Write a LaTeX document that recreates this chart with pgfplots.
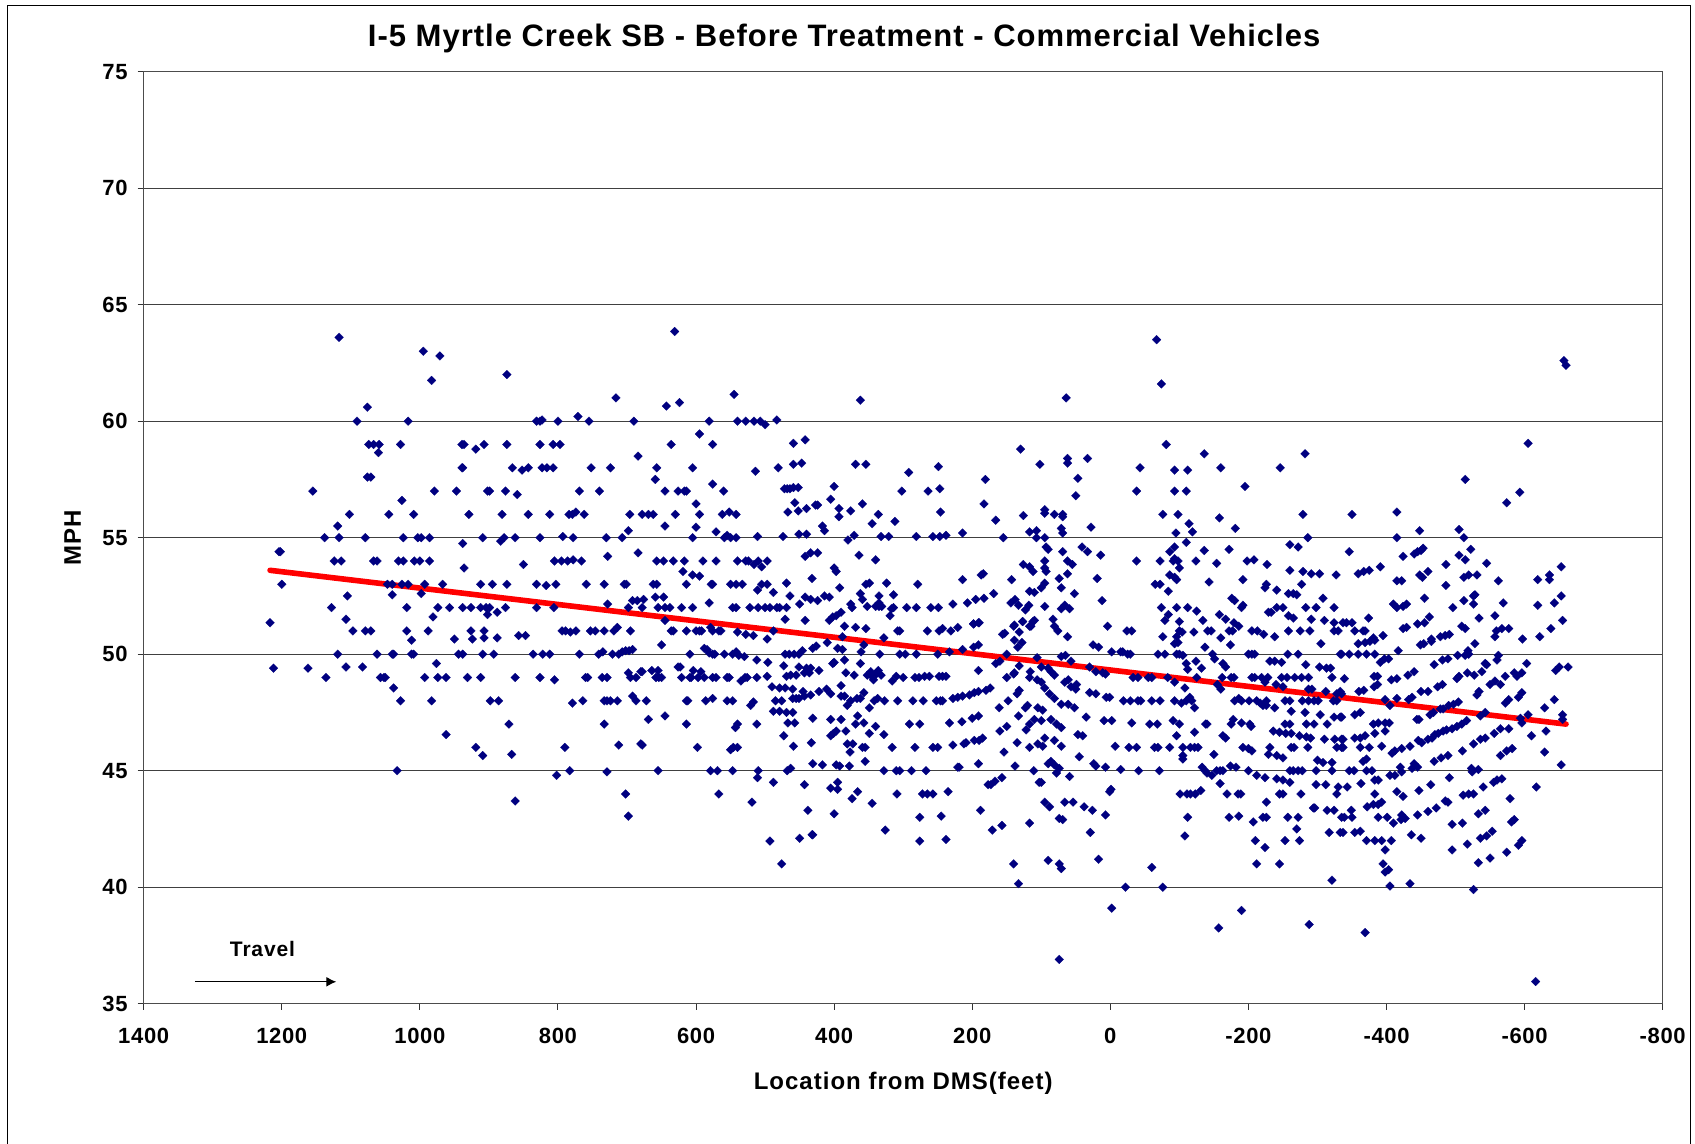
\documentclass[border=0pt]{standalone}
\usepackage{pgfplots}
\pgfplotsset{compat=1.18}
\usepackage{fontspec}
\setmainfont{Liberation Sans}
\usetikzlibrary{arrows.meta}
\definecolor{navypt}{RGB}{0,0,128}
\begin{document}
\begin{tikzpicture}[x=1pt,y=1pt]
\path[use as bounding box] (0,0) rectangle (847.5,572);
\draw[black,line width=0.7pt] (3.85,0) -- (3.85,569.15) -- (845.35,569.15) -- (845.35,0);
\begin{axis}[
  at={(71.85pt,70.15pt)},anchor=south west,
  scale only axis,width=759.5pt,height=466pt,
  x dir=reverse,xmin=-800,xmax=1400,ymin=35,ymax=75,
  xtick={-800,-600,-400,-200,0,200,400,600,800,1000,1200,1400},
  xticklabels={-800,-600,-400,-200,0,200,400,600,800,1000,1200,1400},
  ytick={35,40,45,50,55,60,65,70,75},
  yticklabels={35,40,45,50,55,60,65,70,75},
  ymajorgrids,
  grid style={black!75,line width=0.55pt},
  axis line style={black!70,line width=0.6pt},
  tick style={black!80,line width=0.5pt},
  tick align=outside,tick pos=left,major tick length=3pt,
  every tick label/.style={font=\bfseries\fontsize{11}{13}\selectfont\addfontfeatures{LetterSpace=3}},
  xticklabel style={yshift=-5.5pt},
  yticklabel style={xshift=-1.5pt},
  title={\bfseries\fontsize{15.5}{18}\selectfont\addfontfeatures{LetterSpace=3.2} I-5 Myrtle Creek SB - Before Treatment - Commercial Vehicles},
  title style={xshift=-29.5pt,yshift=0pt},
  xlabel={\bfseries\fontsize{12}{14}\selectfont\addfontfeatures{LetterSpace=4.2} Location from DMS(feet)},
  xlabel style={yshift=-7.5pt},
  ylabel={\bfseries\fontsize{12}{14}\selectfont\addfontfeatures{LetterSpace=4.2} MPH},
  ylabel style={yshift=4pt},
  clip=false,
]
\addplot[only marks,mark=square*,mark size=1.55pt,mark options={rotate=45,fill=navypt,draw=navypt,line width=0.1pt}] coordinates {
(1117,63.6)(995,63)(971,62.8)(983,61.75)(874,62)(1076,60.6)(1091,60)(1017,60)(831,60)(826,60)
(1074,59)(1067,59)(1059,59)(1028,59)(939,59)(936,59)(907,59)(874,59)(826,59)(1060,58.65)(919,58.8)
(939,58)(938,58)(866,58)(852,57.9)(843,58)(1076,57.6)(1071,57.6)(1155,57)(979,57)(947,57)(902,57)(899,57)(876,57)(859,56.85)(1026,56.6)
(1102,56)(1045,56)(1009,56)(929,56)(881,56)(843,56)(1119,55.5)(1138,55)(1117,55)(1079,55)(1024,55)(1003,55)(998,55)(986,55)(909,55)(883,54.85)(878,55)(862,55)(826,55)(938,54.75)
(1204,54.4)(1202,54.4)(1124,54)(1114,54)(1067,54)(1062,54)(1031,54)(1024,54)(1008,54)(1000,54)(986,54)(850,53.85)(936,53.7)
(1200,53)(1047,53)(1040,53)(1026,53)(1017,53)(993,53)(967,53)(912,53)(895,53)(874,53)(831,53)(1105,52.5)(1040,52.55)(998,52.6)
(1128,52)(1019,52)(974,52)(957,52)(938,52)(926,52)(912,52)(904,52)(899,52)(876,52)(831,52)(902,51.7)(888,51.8)(981,51.6)(1107,51.5)
(1217,51.35)(1097,51)(1079,51)(1071,51)(1019,51)(988,51)(926,51)(907,51)(950,50.65)(924,50.65)(907,50.7)(1012,50.6)(888,50.7)(857,50.8)(847,50.8)
(794,51)(789,51)(782,50.95)(774,51)(753,51)(746,51)(733,51)(719,51)(714,51.15)(695,51)
(1119,50)(1062,50)(1040,50)(1038,50)(1012,50)(1009,50)(944,50)(938,50)(909,50)(893,50)(836,50)(822,50)(812,50)(769,50)(741,50)(735,50.1)(721,50)(712,50)(707,50.1)(702,50.15)(697,50.15)(692,50.2)
(1212,49.4)(1162,49.4)(1107,49.45)(1083,49.45)(976,49.6)(1136,49)(1057,49)(1052,49)(1050,49)(993,49)(974,49)(962,49)(931,49)(912,49)(862,49)(826,49)(805,48.9)(760,49)(757,49)(736,49)(729,49)(698,49.2)(695,49)(687,49)(680,49.25)
(1038,48.55)(1028,48)(983,48)(898,48)(886,48)(779,47.9)(764,48)(733,48)(729,48)(724,48)(714,48)(692,48.2)(687,48)(871,47)(733,47)(962,46.55)(919,46)(790,46)(712,46.1)(680,46.15)(867,45.7)(909,45.65)(1033,45)(783,45)(802,44.8)(729,44.95)(702,44)(862,43.7)(698,43.05)
(631,63.85)(716,61)(643,60.65)(624,60.8)(545,61.15)(362,60.9)(823,60.05)(800,60)(771,60.2)(755,60)(690,60)(581,60)(540,60)(528,60)(516,60)(507,60)(500,59.85)(483,60.05)(595,59.45)
(807,59)(797,59)(636,59)(576,59)(684,58.5)(459,59.05)(442,59.2)(823,58)(816,58)(807,58)(752,58)(724,58)(657,58)(605,58)(481,58)(459,58.15)(447,58.2)(514,57.85)(369,58.15)(354,58.15)(249,58.05)(292,57.8)(659,57.5)
(769,57)(740,57)(645,57)(626,57)(617,57)(614,57)(576,57.3)(560,57)(472,57.1)(468,57.1)(464,57.1)(459,57.15)(452,57.15)(400,57.2)(302,57)(264,57)(247,57.1)
(600,56.45)(457,56.5)(405,56.65)(427,56.4)(424,56.4)(359,56.45)(812,56)(784,56)(779,56)(774,56.1)(762,56)(696,56)(678,56)(669,56)(662,56)(630,56)(595,56)(562,56)(552,56.1)(542,56)(467,56.1)(452,56.15)(440,56.25)(393,56.25)(393,55.9)(376,56.15)(336,56)(246,56.1)
(645,55.5)(600,55.45)(698,55.3)(345,55.6)(312,55.7)(417,55.5)(414,55.3)(571,55.25)(793,55.05)(778,55)(730,55)(707,55)(605,55)(559,55)(555,55.1)(550,55)(542,55)(511,55.05)(474,55.05)(451,55.15)(440,55.15)(380,54.9)(371,55.1)(332,55.05)(321,55.05)(281,55.05)(257,55.05)(247,55.05)
(728,54.2)(684,54.35)(442,54.2)(434,54.35)(424,54.35)(364,54.25)(340,54.05)(805,54)(795,54)(786,54)(778,54.05)(766,54)(657,54)(647,54)(633,54)(617,54)(590,54)(571,54)(540,54)(528,54)(524,54)(516,53.85)(510,54)(505,53.75)(497,54)(400,53.7)(397,53.55)(619,53.55)(605,53.4)(595,53.35)(432,53.25)
(817,52.95)(803,53)(759,53)(733,53)(704,53)(701,53)(662,53)(657,53)(614,53)(578,53)(576,53)(550,53)(542,53)(533,53)(469,53.05)(505,53)(497,53)(511,52.75)(354,53)(349,53.05)(324,53.05)(279,53)(488,52.65)(392,52.85)
(659,52.45)(647,52.45)(464,52.5)(362,52.6)(359,52.35)(335,52.5)(314,52.55)(442,52.45)(434,52.35)(424,52.3)(414,52.5)(407,52.45)(581,52.2)(692,52.3)(685,52.3)(676,52.35)(728,52.15)(450,52.15)(376,52.15)(374,52)(335,52.2)
(806,52)(698,52)(678,52)(655,52)(645,52)(638,52)(621,52)(605,52)(547,52)(542,52)(522,52)(510,52)(500,52)(493,52)(483,52)(479,52)(469,52)(352,52.05)(340,52.05)(335,52.05)(331,52.05)(317,51.95)(314,52)(295,52)(281,52)(260,52)(249,52)
(402,51.6)(397,51.65)(390,51.8)(319,51.65)(471,51.5)(442,51.45)
(645,51.45)(407,51.45)(385,51.2)(369,51.15)(354,51.1)(636,51)(633,51)(614,51)(600,51)(595,51)(592,51)(579,51.15)(576,51)(567,51)(564,51)(540,50.95)(528,50.85)(517,50.8)(497,50.65)(488,51)(388,50.75)(328,50.7)(308,51)(305,51)(265,51)(243,51.1)(248,51)(231,51)(221,51.15)(198,51.3)(191,51.35)(156,50.85)(153,50.9)(140,51.2)(132,50.95)(127,51.4)(115,51.2)(110,51.45)
(650,50.4)(609,50)(588,50.25)(584,50.2)(581,50.05)(576,50)(573,50)(559,50)(547,50)(542,50.1)(538,49.95)(530,49.9)(512,49.75)(496,49.65)(471,50)(465,50)(458,50)(451,50)(446,50.15)(431,50.25)(426,50.35)(410,50.5)(395,50.25)(388,50.2)(361,50.1)(357,50.4)(334,50)(305,50)(297,50)(281,50)(250,50)(233,50.1)(214,50.2)(198,50.3)(191,50.4)(166,49.6)(160,49.7)(150,50)(139,50.6)(134,50.3)(128,50.5)(106,49.85)
(473,49.5)(402,49.6)(400,49.65)(385,49.75)(362,49.6)(451,49.45)(440,49.4)(434,49.4)(678,49.25)(664,49.3)(655,49.3)(626,49.45)(623,49.45)(604,49.3)(593,49.25)(422,49.3)(383,49.2)(347,49.25)(336,49.3)(191,49.3)(132,49.5)(139,49.2)(371,49.1)(352,49.1)(347,49.1)(339,49.15)(332,49.1)(116,49.25)(117,49)
(658,49)(654,49)(650,49)(621,49)(609,49)(607,49)(597,49)(588,49)(576,49)(571,49)(555,49)(552,49)(535,48.85)(529,49)(526,49)(512,49)(497,49.05)(469,49.05)(463,49.1)(455,49.1)(443,49.2)(436,49.2)(343,48.9)(316,48.85)(310,49.05)(300,49)(283,49)(277,49)(269,49.05)(262,49.05)(248,49.05)(243,49.05)(238,49.05)(150,49)(140,49.15)(106,48.9)
(490,48.6)(479,48.55)(471,48.55)(460,48.5)(445,48.4)(422,48.4)(411,48.5)(405,48.3)(390,48.65)(357,48.35)(180,48.45)(174,48.55)(132,48.45)(135,48.3)(197,48.35)(191,48.4)(204,48.25)(214,48.2)(221,48.15)(228,48.1)
(672,48)(614,48)(612,48)(586,48)(576,48.1)(555,48)(547,48)(517,47.95)(521,47.8)(485,48)(476,48)(460,48.1)(455,48.1)(451,48.1)(443,48.2)(434,48.25)(390,48.2)(385,48.2)(376,48)(367,48.1)(362,48.1)(342,48)(337,48.1)(327,48)(308,48)(286,48)(271,48)(252,48)(246,48)(243,48)(148,48)(105,47.7)(381,47.8)(349,47.7)(161,47.7)(123,47.7)(120,47.8)
(488,47.55)(479,47.55)(469,47.5)(460,47.5)(669,47.2)(645,47.35)(366,47.35)(133,47.35)(614,47)(540,47)(543,46.85)(512,47)(467,47.05)(457,47.05)(431,47.25)(405,47.2)(390,47.2)(369,47)(357,47.05)(340,46.9)(349,46.6)(291,47)(276,47)(233,47.05)(215,47.1)(200,47.25)(191,47.35)(150,46.9)(160,46.7)(122,46.75)(117,47)(110,47.2)
(401,46.6)(405,46.5)(397,46.7)(383,46.7)(473,46.5)(328,46.55)(678,46.1)(598,46)(550,45.9)(546,46)(540,46)(459,46.05)(433,46.2)(381,46.15)(373,46.15)(359,46)(355,46)(316,46)(283,46)(257,46)(250,46)(228,46.1)(212,46.15)(209,46.2)(197,46.3)(190,46.3)(185,46.4)(135,46.2)(117,46)(105,46.15)(377,45.8)(154,45.8)
(655,45)(579,45)(569,45)(547,45)(510,45)(468,45)(463,45.1)(431,45.3)(417,45.25)(397,45.25)(392,45.2)(378,45.2)(355,45.4)(328,45)(310,45)(305,45)(288,45)(267,45)(221,45.15)(219,45.15)(191,45.3)(138,45.2)(111,45)
(511,44.7)(488,44.5)(443,44.4)(395,44.5)(405,44.25)(395,44.2)(567,44)(366,44.1)(374,43.8)(309,44)(272,44)(265,44)(257,44)(235,44.1)(177,44.4)(173,44.4)(167,44.55)(157,44.7)(103,44.5)(519,43.65)(438,43.3)(400,43.15)(345,43.6)(188,43.3)(276,43)(245,43.05)
(171,42.45)(157,42.65)(117,42.75)(326,42.45)(450,42.1)(432,42.25)(431,42.25)(493,41.98)(276,41.98)(238,42.05)(476,41)(140,41)(133,40.15)
(-67,63.5)(-74,61.6)(64,61)(-81,59)(130,58.8)(62,58.4)(62,58.2)(33,58.4)(102,58.15)(-136,58.6)(-43,58)(-93,57.9)(-112,57.9)(-160,58)(-246,58)(-282,58.6)(181,57.5)(47,57.55)(50,56.8)(-38,57)(-93,57)(-110,57)(-195,57.2)
(183,56.45)(126,55.95)(95,56.2)(95,56.05)(81,56)(69,56)(69,55.9)(166,55.75)(-76,56)(-98,56)(-158,55.85)(-279,56)(-114,55.6)(-181,55.4)(28,55.45)(71,55.4)(69,55.2)(117,55.25)(107,55.3)(-119,55.25)(-95,55.2)(238,55.1)(214,55.2)(155,55)(107,55)(95,55)(-110,54.8)(-286,55)(-260,54.7)(-272,54.6)(93,54.6)(90,54.5)(41,54.6)(33,54.4)(69,54.4)(14,54.25)(-93,54.6)(-86,54.4)(-136,54.45)(-172,54.5)
(95,54)(-38,54)(-72,54)(-93,54.1)(-91,54)(-98,54)(-124,54)(-154,53.9)(-198,54)(-208,54.05)(-227,53.85)(126,53.85)(117,53.75)(112,53.55)(62,54)(55,53.85)(95,53.7)(93,53.55)(184,53.45)(187,53.4)(214,53.2)(143,53.2)(74,53.25)(62,53.45)(19,53.25)(-100,53.7)(-86,53.4)(-93,53.3)(-96,53.2)(-143,53.1)(-192,53.2)(-260,53.6)(-279,53.55)(-291,53.45)(-303,53.45)(-327,53.4)
(-277,53)(-226,53)(-224,52.85)(-241,52.75)(-65,53)(-72,53)(-84,52.7)(95,53.05)(100,52.85)(71,52.85)(117,52.7)(110,52.65)(52,52.6)(169,52.6)(183,52.4)(195,52.35)(207,52.2)(228,52.15)(138,52.35)(144,52.2)(133,52.1)(118,52.1)(123,51.9)(12,52.3)(95,52.05)(66,52.1)(71,51.95)(59,51.95)
(-258,52.6)(-265,52.6)(-270,52.55)(-308,52.4)(-176,52.4)(-180,52.3)(-192,52.1)(-190,52)(-74,52)(-96,52)(-112,52)(-125,51.85)(-158,51.7)(-241,52)(-250,52)(-233,51.8)(-229,51.8)(-283,52)(-298,52)(-324,52)(-258,51.65)(-265,51.55)(-84,51.7)(-79,51.45)(-167,51.5)(-134,51.45)(-100,51.4)(-179,51.35)(-186,51.2)(-291,51.5)(-310,51.45)(-324,51.35)
(127,51.4)(112,51.4)(117,51.2)(83,51.5)(139,51.25)(190,51.35)(198,51.3)(4,51.2)(81,51.2)(76,51)(-24,51)(-31,51)(-100,51)(-104,50.95)(-121,50.95)(-141,51)(-146,51)(-172,51)(-177,51)(-205,51)(-213,51)(-222,50.85)(-258,51)(-275,51)(-289,51)(-324,51)(-330,51)(-238,50.75)(-76,50.75)(-96,50.75)(62,50.75)(-160,50.7)
(25,50.4)(17,50.3)(-2,50.1)(-15,50.1)(-18,50.1)(-25,50)(-29,50)(-69,50)(-79,50)(-93,50.45)(-98,50.5)(-96,50)(-100,50)(-105,49.95)(-137,50.3)(-148,50)(-151,49.8)(-174,50.4)(-200,50)(-205,50)(-209,50)(-257,50)(-272,50)(-305,50.45)(-333,50)
(71,49.9)(65,49.95)(57,49.7)(-124,49.7)(-110,49.6)(-112,49.35)(-163,49.6)(-167,49.45)(-231,49.7)(-238,49.7)(-248,49.65)(-283,49.55)(-303,49.45)(-313,49.4)(-319,49.4)(30,49.45)(21,49.25)(11,49.2)(7,49.15)(-132,49.4)(100,49.45)(90,49.4)(86,49.25)(81,49.1)
(-33,49)(-40,49)(-55,49)(-60,49)(-83,49)(-93,48.8)(-125,49)(-162,49)(-175,49)(-179,49)(-205,49)(-209,49)(-219,49)(-228,49)(-248,49)(-256,49)(-267,49)(-277,49)(-287,49)(-321,49)(100,48.8)(66,48.8)(61,48.9)(49,48.7)(57,48.6)(50,48.5)(95,48.55)(88,48.3)(30,48.35)(21,48.3)(1,48.15)(6,48.15)(-155,48.7)(-160,48.5)(-108,48.55)(-224,48.8)(-240,48.7)(-250,48.6)(-287,48.5)(-292,48.5)(-312,48.4)(-328,48.3)(-333,48.4)
(81,48.1)(-19,48)(-29,48)(-40,48)(-44,48)(-60,48)(-72,48)(-93,48)(-103,47.9)(-110,48)(-115,48.15)(-118,48)(71,47.85)(61,47.85)(52,47.7)(-122,47.7)(-180,48)(-186,48.1)(-190,48)(-201,48)(-212,48)(-217,47.9)(-221,47.8)(-226,48)(-226,47.8)(-238,47.7)(-253,48)(-260,48)(-278,48)(-287,48)(-295,48)(-301,48)(-323,48)(-328,48)
(98,47.6)(-262,47.55)(-282,47.5)(-304,47.4)(35,47.3)(-324,47.3)(-333,47.3)(86,47.2)(100,47.15)(9,47.15)(-2,47.15)(-31,47.05)(-91,47.15)(78,47)(71,46.85)(-57,47)(-68,47)(-100,47)(-138,47)(-140,47)(-178,47.2)(-175,47)(-190,47.05)(-202,47)(-204,46.9)(-253,47)(-260,47)(-284,47)(-295,47)(-314,47)
(-122,46.65)(-236,46.7)(-245,46.65)(-254,46.6)(-262,46.6)(-96,46.5)(47,46.55)(40,46.5)(-274,46.5)(-284,46.45)(-290,46.4)(-163,46.5)(-167,46.4)(-310,46.35)(-325,46.35)(-335,46.35)(95,46.4)(98,46.05)(81,46.3)(71,46.05)(-7,46.05)(-27,46)(-38,46)(-64,46)(-69,46)(-86,46)(-105,46)(-116,46)(-122,46)(-127,46)(-192,46)(-200,45.95)(-205,45.85)(-231,46)(-229,45.7)(-262,46)(-266,46)(-286,46)(-328,46)(-335,46)
(-150,45.7)(-105,45.65)(-105,45.5)(45,45.6)(-241,45.65)(-250,45.55)(-300,45.45)(-308,45.35)(-321,45.35)(24,45.3)(21,45.2)(7,45.15)(-15,45.05)(-41,45)(-71,45)(86,45.4)(90,45.3)(81,45.25)(74,45.1)(78,44.9)(-133,45.15)(-137,45)(-140,44.9)(-147,44.8)(-154,45)(-159,45)(-163,45)(-174,45.2)(-182,45.15)(-200,45)(-212,44.8)(-224,44.7)(-260,45)(-265,45)(-272,45)(-278,45)(-298,45)(-321,45)
(-241,44.65)(-250,44.6)(-260,44.5)(59,44.75)(100,44.5)(-159,44.45)(-298,44.4)(-312,44.4)(-330,44.3)(1,44.1)(-1,44.2)(-101,44)(-111,44)(-116,44)(-123,44)(-131,44.15)(-169,44)(-185,44)(-189,44)(-245,44)(-250,44)(-276,44)(-328,44)
(95,43.65)(88,43.45)(66,43.65)(54,43.65)(38,43.45)(26,43.3)(-226,43.65)(7,43.1)(-294,43.4)(-296,43.4)(-314,43.3)(-324,43.3)(74,42.95)(69,42.9)(-112,43)(-172,43)(-186,43.05)(-207,42.8)(-221,43)(-226,43)(-257,43)(-272,43)(-335,43)
(29,42.35)(-108,42.2)(-270,42.5)(-317,42.35)(-333,42.35)(-210,42)(-253,42)(-274,42)(-224,41.7)(90,41.15)(17,41.2)(74,41)(71,40.8)(-60,40.85)(-212,41)(-245,41)(-321,40.3)(-22,40)(-76,40)(-2,39.1)(-190,39)(-157,38.25)(-288,38.4)(74,36.9)
(-657,62.6)(-660,62.4)(-605,59.05)(-514,57.5)(-415,56.1)(-350,56)(-593,56.95)(-574,56.5)(-448,55.3)(-415,55)(-505,55.35)(-512,55)(-522,54.5)(-346,54.4)(-424,54.2)(-440,54.3)(-445,54.4)(-450,54.45)(-453,54.55)(-505,54.25)(-514,54.05)(-486,53.85)(-391,53.75)(-375,53.6)(-367,53.55)(-359,53.45)(-653,53.75)(-545,53.9)(-460,53.55)(-448,53.4)(-452,53.3)(-512,53.3)(-519,53.4)(-531,53.4)(-636,53.4)(-636,53.2)(-415,53.15)(-422,53.15)(-562,53.15)(-619,53.2)
(-486,52.95)(-528,52.55)(-526,52.5)(-455,52.4)(-653,52.5)(-512,52.3)(-569,52.2)(-643,52.2)(-619,52.1)(-410,52.15)(-415,52)(-424,52.05)(-429,52.15)(-526,52.15)(-496,52)(-374,51.55)(-462,51.6)(-455,51.35)(-445,51.3)(-534,51.55)(-557,51.65)(-655,51.45)(-337,51.35)(-342,51.35)(-350,51.35)(-424,51.1)(-429,51.15)(-509,51.2)(-514,51.1)(-638,51.1)(-577,51.1)(-567,51.1)(-559,51)(-354,51)(-366,51)(-369,51)(-395,50.8)(-381,50.7)(-478,50.75)(-485,50.8)(-491,50.85)(-557,50.75)(-622,50.75)(-465,50.65)(-597,50.65)
(-359,50.45)(-369,50.5)(-376,50.55)(-383,50.6)(-417,50.15)(-449,50.4)(-454,50.45)(-465,50.55)(-528,50.45)(-518,50.15)(-519,50)(-514,49.95)(-335,50)(-346,50)(-359,50)(-371,50)(-383,50)(-503,49.95)(-562,49.95)(-560,49.75)(-391,49.65)(-397,49.8)(-403,49.8)(-469,49.55)(-481,49.75)(-489,49.8)(-543,49.6)(-545,49.55)(-603,49.6)(-663,49.45)(-650,49.45)(-645,49.3)
(-339,48.95)(-382,49.05)(-387,49.05)(-407,48.9)(-415,48.95)(-431,49.1)(-440,49.25)(-502,48.95)(-505,49.05)(-517,49.2)(-527,49.1)(-538,49.25)(-572,49.05)(-585,49.2)(-589,49.05)(-596,49.2)(-550,48.7)(-557,48.85)(-565,48.7)(-382,48.6)(-387,48.7)(-474,48.6)(-481,48.7)(-360,48.4)(-367,48.45)(-450,48.4)(-460,48.4)(-531,48.25)(-534,48.4)(-591,48.15)(-596,48.35)(-335,48.3)
(-415,48.1)(-398,48.05)(-405,47.8)(-432,48.05)(-437,48.15)(-643,48.05)(-572,47.9)(-577,48.05)(-504,47.95)(-497,47.85)(-490,47.8)(-482,47.65)(-478,47.65)(-463,47.4)(-468,47.5)(-629,47.7)(-335,47.3)(-543,47.5)(-536,47.35)(-354,47.4)(-362,47.5)(-655,47.4)(-655,47.2)(-605,47.4)(-594,47.25)(-596,47.05)(-444,47.2)(-447,47.2)
(-381,47)(-388,47.05)(-398,47.05)(-404,47.05)(-516,47.15)(-509,47)(-502,46.9)(-495,46.8)(-487,46.75)(-482,46.7)(-475,46.6)(-470,46.55)(-466,46.4)(-460,46.35)(-383,46.6)(-398,46.7)(-631,46.7)(-577,46.8)(-565,46.8)(-556,46.6)(-543,46.4)(-536,46.35)(-610,46.5)(-354,46.4)(-362,46.4)(-369,46.5)(-337,46.35)(-446,46.3)(-451,46.2)(-526,46.15)(-393,46.05)(-362,46)(-375,46)(-434,46.05)(-422,45.95)(-337,46)
(-408,45.75)(-412,45.85)(-510,45.85)(-582,45.95)(-574,45.85)(-629,45.8)(-565,45.65)(-489,45.65)(-479,45.55)(-469,45.4)(-371,45.5)(-366,45.4)(-653,45.25)(-420,45.15)(-422,44.95)(-440,45.3)(-437,45.1)(-445,45.15)(-523,45.1)(-524,44.95)(-533,45.05)(-346,45)(-353,45)(-371,45)(-379,45)
(-405,44.8)(-412,44.8)(-491,44.7)(-383,44.6)(-388,44.6)(-567,44.65)(-560,44.6)(-555,44.5)(-363,44.45)(-464,44.4)(-540,44.3)(-447,44.15)(-343,44.3)(-617,44.3)(-415,44.1)(-526,44)(-519,44)(-511,43.95)(-383,44)(-424,43.9)(-489,43.65)(-485,43.7)(-579,43.8)(-393,43.65)(-388,43.55)(-381,43.55)(-372,43.45)(-472,43.4)(-460,43.25)(-543,43.3)(-533,43.15)(-349,43.3)(-445,43.1)(-422,43.1)(-427,42.95)(-421,42.9)(-388,43)(-401,43)(-339,43)(-350,43)
(-585,42.9)(-581,42.8)(-510,42.75)(-495,42.7)(-410,42.75)(-553,42.4)(-545,42.2)(-536,42.1)(-362,42.4)(-354,42.35)(-337,42.35)(-436,42.25)(-450,42.1)(-407,42)(-393,42)(-383,42)(-371,42)(-596,42)(-591,41.8)(-517,41.85)(-398,41.6)(-495,41.6)(-574,41.5)(-550,41.25)(-533,41.05)(-395,41)(-403,40.75)(-398,40.65)(-405,40.05)(-434,40.15)(-526,39.9)(-369,38.05)(-616,35.95)
};
\addplot[red,line width=2.8pt,line cap=round] coordinates {(1217,53.6)(-660,47)};
\draw[black,line width=0.65pt,-{Latex[length=5pt,width=5pt]}] (axis cs:1326,35.94) -- (axis cs:1121,35.94);
\node[font=\bfseries\fontsize{10.5}{12}\selectfont\addfontfeatures{LetterSpace=4},anchor=center] at (axis cs:1228,37.33) {Travel};
\end{axis}
\end{tikzpicture}
\end{document}
